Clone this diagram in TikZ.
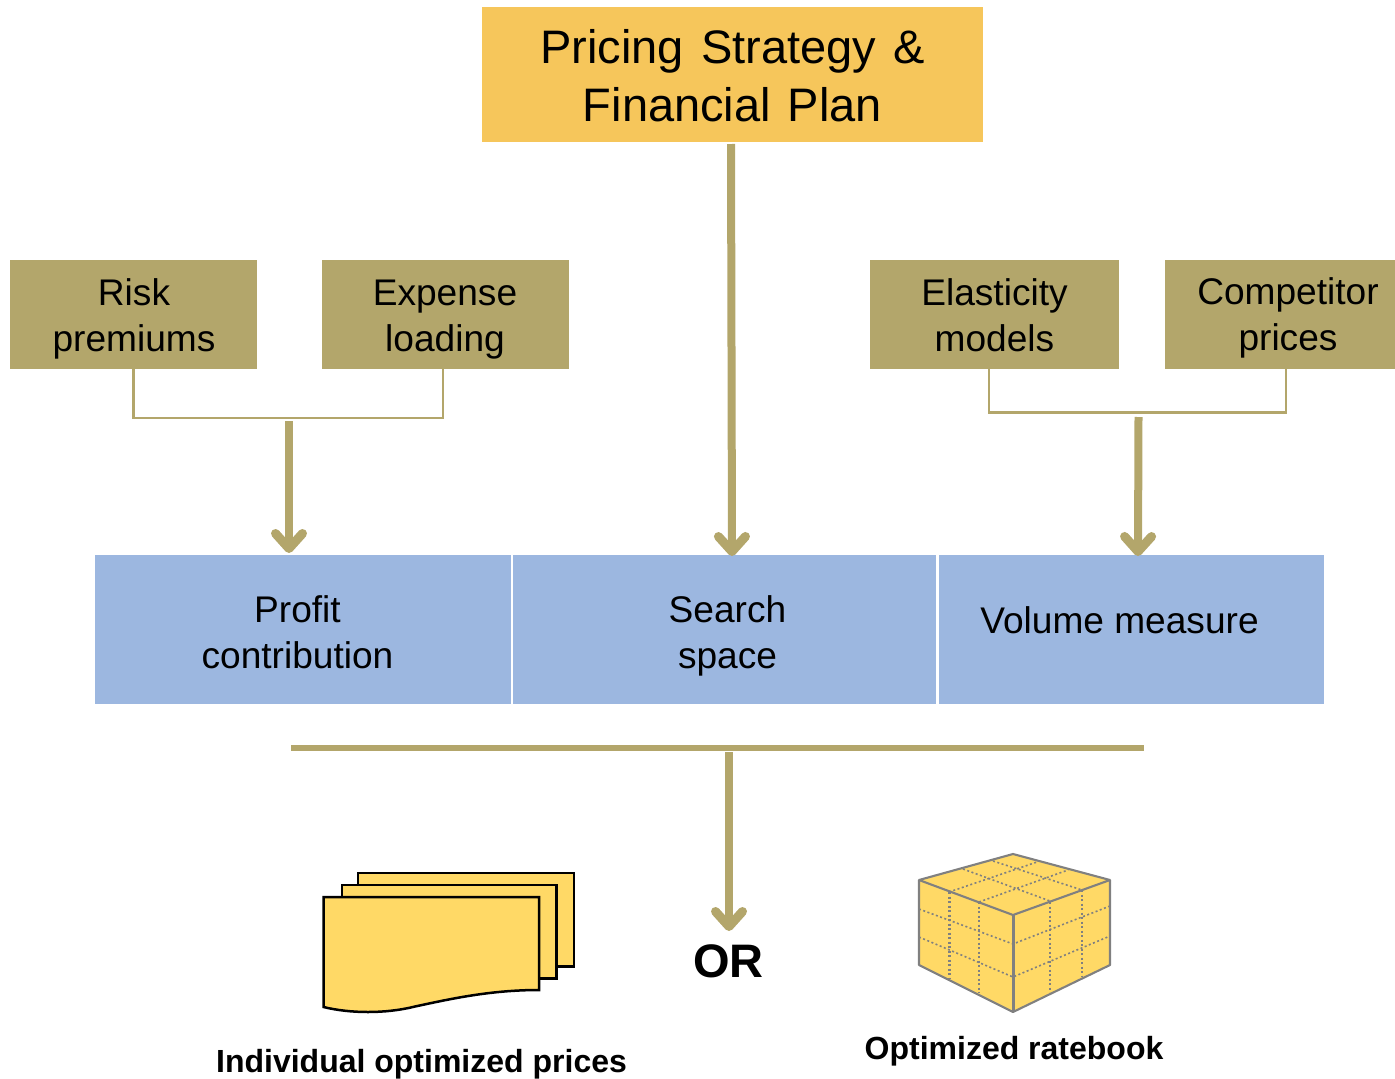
\documentclass[tikz,border=0pt]{standalone}
\usepackage{fontspec}
\setmainfont{Liberation Sans}
\usetikzlibrary{arrows.meta}
\definecolor{topc}{HTML}{F6C65B}
\definecolor{olive}{HTML}{B3A66B}
\definecolor{bluec}{HTML}{9CB7E0}
\definecolor{yel}{HTML}{FFD966}
\definecolor{cubeg}{HTML}{808080}
\tikzset{
  box/.style={inner sep=0pt,outer sep=0pt,draw=none},
  lbl/.style={inner sep=0pt,outer sep=0pt,align=center,text=black},
  biglbl/.style={lbl,font=\fontsize{47}{58}\selectfont},
  medlbl/.style={lbl,font=\fontsize{37.1}{46}\selectfont},
  boldlbl/.style={lbl,font=\fontsize{32}{38}\selectfont\bfseries},
  bigarrow/.style={olive,line width=8pt,-{Straight Barb[round,length=15pt,width=27pt,line width=9pt]}},
  bracket/.style={olive,line width=2.2pt},
  page/.style={fill=yel,draw=black,line width=2.5pt,line join=miter},
  cubeedge/.style={cubeg,line width=2.1pt,line join=round},
  cubedot/.style={cubeg,line width=1.6pt,dash pattern=on 2pt off 2.5pt},
}
\begin{document}
\begin{tikzpicture}[x=1pt,y=-1pt]
\useasboundingbox (0,0) rectangle (1395,1079);
% boxes
\node[box,fill=topc,minimum width=501pt,minimum height=134.5pt] (top) at (732.5,74.25) {};
\node[box,fill=olive,minimum width=247pt,minimum height=109pt] (risk) at (133.5,314.5) {};
\node[box,fill=olive,minimum width=247pt,minimum height=109pt] (expense) at (445.5,314.5) {};
\node[box,fill=olive,minimum width=249pt,minimum height=109pt] (elast) at (994.5,314.5) {};
\node[box,fill=olive,minimum width=230pt,minimum height=109pt] (comp) at (1280,314.5) {};
\node[box,fill=bluec,minimum width=416pt,minimum height=149pt] (profit) at (303,629.5) {};
\node[box,fill=bluec,minimum width=423pt,minimum height=149pt] (search) at (724.5,629.5) {};
\node[box,fill=bluec,minimum width=385pt,minimum height=149pt] (volume) at (1131.5,629.5) {};
% labels
\node[biglbl] (ltop) at (732.5,75.5) {Pricing\kern4pt{} Strategy\kern4pt{} \&\\Financial\kern4pt{} Plan};
\node[medlbl] (lrisk) at (134,318.5) {Risk\\premiums};
\node[medlbl] (lexp) at (445,319.5) {Expense\\loading};
\node[medlbl] (lela) at (994.5,315) {Elasticity\\models};
\node[medlbl] (lcomp) at (1288,318) {Competitor\\prices};
\node[medlbl] (lprof) at (297.5,632) {Profit\\contribution};
\node[medlbl] (lsearch) at (727.5,636) {Search\\space};
\node[medlbl] (lvol) at (1119.5,620) {Volume measure};
\node[lbl,font=\fontsize{47}{50}\selectfont\bfseries] (lor) at (728.5,961) {OR};
\node[boldlbl] (lind) at (421.5,1064) {Individual optimized prices};
\node[boldlbl] (lopt) at (1014,1051) {Optimized ratebook};
% brackets
\coordinate (bl1) at (risk.south);
\coordinate (bl2) at (443,369);
\coordinate (bl) at (289,418);
\draw[bracket] (bl1) |- (bl) -| (bl2);
\coordinate (br1) at (989,369);
\coordinate (br2) at (1286,369);
\coordinate (br) at (1138,412.5);
\draw[bracket] (br1) |- (br) -| (br2);
% arrows
\coordinate (as1) at (289,421);
\coordinate (ae1) at (289,553);
\draw[bigarrow] (as1) -- (ae1);
\coordinate (as2) at (731,144);
\coordinate (ae2) at (732,556);
\draw[bigarrow] (as2) -- (ae2);
\coordinate (as3) at (1138.5,417);
\coordinate (ae3) at (1138,556);
\draw[bigarrow] (as3) -- (ae3);
\coordinate (rl) at (291,748);
\coordinate (rr) at (1144,748);
\draw[olive,line width=6pt] (rl) -- (rr);
\coordinate (as4) at (729,752);
\coordinate (ae4) at (729,931);
\draw[bigarrow] (as4) -- (ae4);
% pages
\draw[page] (358,873) -- (574,873) -- (574,966.5) -- (358,966.5) -- cycle;
\draw[page] (342,885) -- (556.5,885) -- (556.5,978.5) -- (342,978.5) -- cycle;
\draw[page] (323.5,897) -- (539,897) -- (539,990)
  .. controls (490,990) and (450,999) .. (415,1006.5)
  .. controls (385,1014) and (350,1013.5) .. (323.5,1007) -- cycle;
% cube
\fill[yel] (1013,854) -- (1110,880) -- (1110,965) -- (1013,1012) -- (919,965) -- (919,880) -- cycle;
\draw[cubedot] (949,892) -- (949,978);
\draw[cubedot,xshift=1pt] (949,892) -- (949,978);
\draw[cubedot] (979,902) -- (979,993);
\draw[cubedot] (919,909) -- (1013,944) -- (1110,906);
\draw[cubedot] (919,937) -- (1013,977) -- (1110,936);
\draw[cubedot] (1050,902) -- (1050,992);
\draw[cubedot] (1082,890) -- (1082,977);
\draw[cubedot] (949,892) -- (1037,862);
\draw[cubedot] (979,902) -- (1068,870);
\draw[cubedot] (963,869) -- (1050,901);
\draw[cubedot] (993,861) -- (1082,890);
\draw[cubeedge] (919,880) -- (1013,854) -- (1110,880) -- (1013,915) -- cycle;
\draw[cubeedge] (919,880) -- (919,965) -- (1013,1012) -- (1110,965) -- (1110,880);
\draw[cubeg,line width=3pt] (1013,915) -- (1013,1012);
\end{tikzpicture}
\end{document}
